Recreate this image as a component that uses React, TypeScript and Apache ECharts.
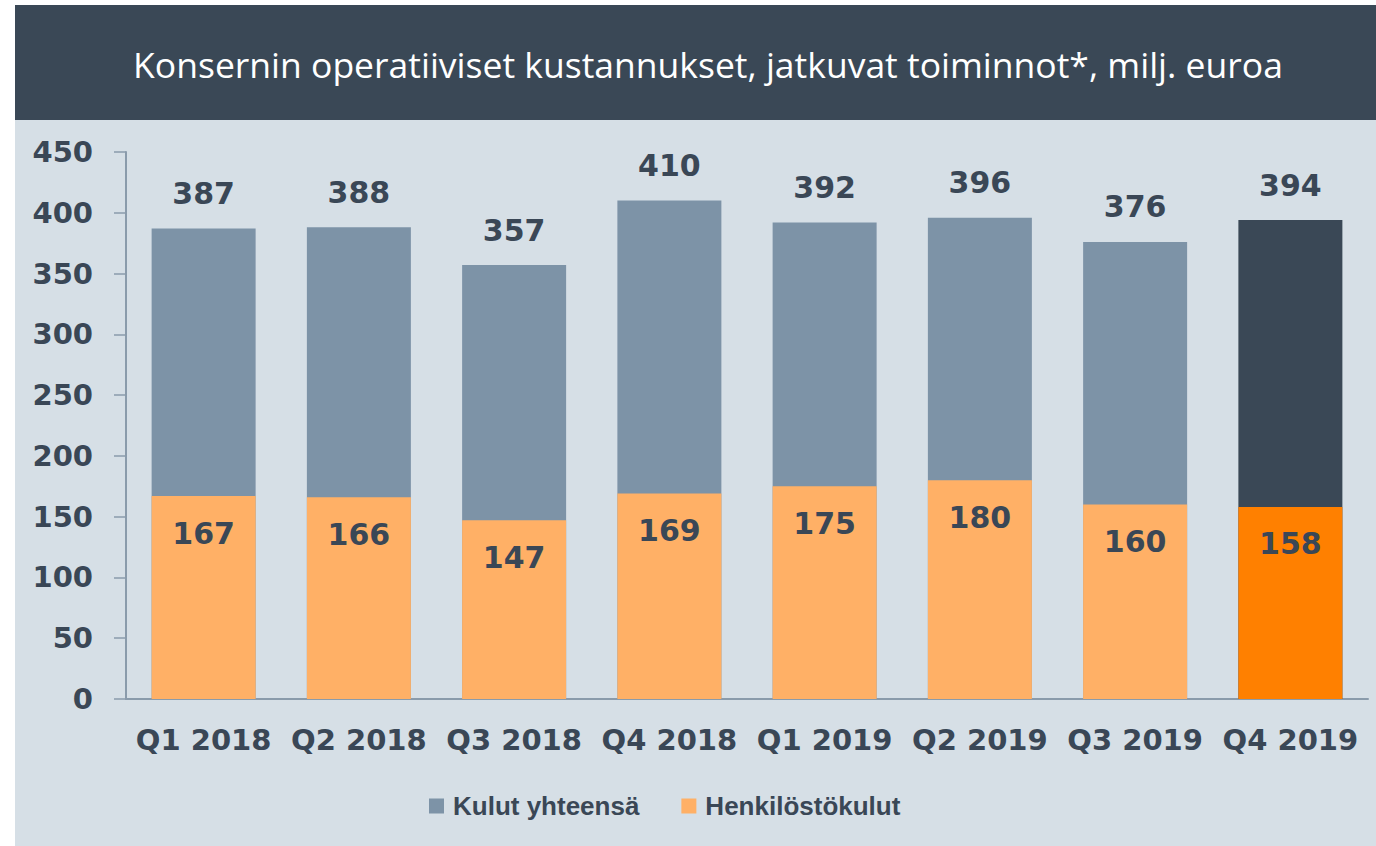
import React, { useEffect, useRef } from "react";
import * as echarts from "echarts";

const categories = ["Q1 2018", "Q2 2018", "Q3 2018", "Q4 2018", "Q1 2019", "Q2 2019", "Q3 2019", "Q4 2019"];
const totalCosts = [387, 388, 357, 410, 392, 396, 376, 394];
const personnelCosts = [167, 166, 147, 169, 175, 180, 160, 158];
const yTicks = [0, 50, 100, 150, 200, 250, 300, 350, 400, 450];
const titleText = "Konsernin operatiiviset kustannukset, jatkuvat toiminnot*, milj. euroa";
const seriesNames = ["Kulut yhteensä", "Henkilöstökulut"];

const TEXT = "#3a4756";
const GRAY = "#7d93a7";
const DARK = "#3a4856";
const ORANGE_L = "#ffb066";
const ORANGE = "#ff8000";
const BG = "#d6dfe6";
const AXIS = "#8a9bab";

export default function App() {
  const ref = useRef<HTMLDivElement>(null);
  useEffect(() => {
    const chart = echarts.init(ref.current!, null, { renderer: "svg" });
    const last = categories.length - 1;
    const valueLabelFont = { fontFamily: "DejaVu Sans", fontWeight: "bold" as const, fontSize: 30, color: TEXT };
    chart.setOption({
      animation: false,
      backgroundColor: "#ffffff",
      graphic: [
        { type: "rect", left: 15, top: 120, shape: { width: 1361, height: 726 }, style: { fill: BG }, z: -10 },
        { type: "rect", left: 15, top: 5, shape: { width: 1361, height: 115 }, style: { fill: DARK }, z: -10 },
        {
          type: "text",
          x: 708,
          y: 64,
          style: {
            text: titleText,
            fill: "#ffffff",
            font: "35.5px 'Open Sans'",
            textAlign: "center",
            textVerticalAlign: "middle",
          },
        },
      ],
      legend: {
        bottom: 22,
        left: 424,
        itemWidth: 15,
        itemHeight: 15,
        itemGap: 42,
        icon: "rect",
        textStyle: { fontFamily: "Liberation Sans", fontWeight: "bold", fontSize: 26, color: TEXT, padding: [0, 0, 0, 4] },
        data: [
          { name: seriesNames[0], itemStyle: { color: GRAY } },
          { name: seriesNames[1], itemStyle: { color: ORANGE_L } },
        ],
      },
      grid: { left: 126, right: 8, top: 152, bottom: 147 },
      xAxis: {
        type: "category",
        data: categories,
        axisLine: { lineStyle: { color: AXIS, width: 2 } },
        axisTick: { show: false },
        axisLabel: { interval: 0, margin: 26, fontFamily: "DejaVu Sans", fontWeight: "bold", fontSize: 29, color: TEXT },
      },
      yAxis: {
        type: "value",
        min: yTicks[0],
        max: yTicks[yTicks.length - 1],
        interval: 50,
        splitLine: { show: false },
        axisLine: { show: true, lineStyle: { color: AXIS, width: 2 } },
        axisTick: { show: true, inside: false, length: 12, lineStyle: { color: AXIS, width: 1.5 } },
        axisLabel: { margin: 33, fontFamily: "DejaVu Sans", fontWeight: "bold", fontSize: 29, color: TEXT },
      },
      series: [
        {
          name: seriesNames[0],
          type: "bar",
          barWidth: 104,
          barGap: "-100%",
          data: totalCosts.map((v, i) => ({ value: v, itemStyle: { color: i === last ? DARK : GRAY } })),
          label: { show: true, position: "top", distance: 20, ...valueLabelFont },
          z: 2,
        },
        {
          name: seriesNames[1],
          type: "bar",
          barWidth: 104,
          barGap: "-100%",
          data: personnelCosts.map((v, i) => ({ value: v, itemStyle: { color: i === last ? ORANGE : ORANGE_L } })),
          label: { show: true, position: "insideTop", distance: 22, ...valueLabelFont },
          z: 3,
        },
      ],
    });
    return () => chart.dispose();
  }, []);
  return <div ref={ref} style={{ position: "absolute", left: 0, top: 0, width: 1376, height: 846 }} />;
}
